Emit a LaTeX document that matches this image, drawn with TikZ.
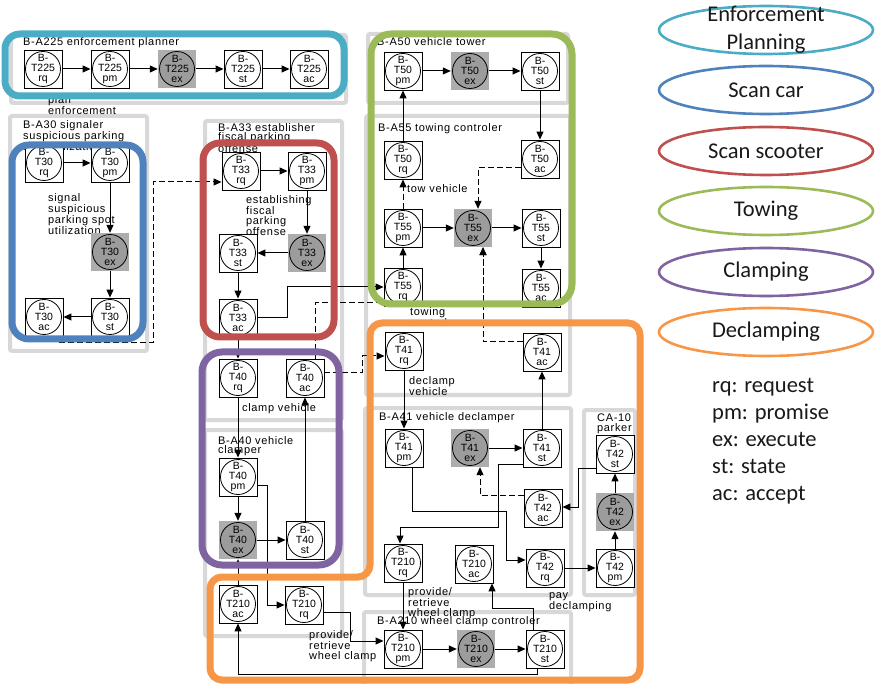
\documentclass[tikz,border=0pt]{standalone}
\usepackage{fontspec}
\setmainfont{Liberation Sans}
\newfontfamily\lblfont[LetterSpace=6]{Liberation Sans}
\newfontfamily\legfont{Carlito}
\usetikzlibrary{arrows.meta,shapes.geometric,calc}
\definecolor{cEP}{HTML}{4BACC6}
\definecolor{cSC}{HTML}{4F81BD}
\definecolor{cSS}{HTML}{C0504D}
\definecolor{cTW}{HTML}{9BBB59}
\definecolor{cCL}{HTML}{8064A2}
\definecolor{cDC}{HTML}{F79646}
\definecolor{lanegray}{HTML}{D8D8D8}
\definecolor{exsq}{HTML}{ADADAD}
\definecolor{excirc}{HTML}{9C9C9C}
\tikzset{
  tx/.style={rectangle, draw=black, line width=0.9pt, fill=white,
    minimum width=38pt, minimum height=38pt, inner sep=0pt, align=center,
    font=\fontsize{10.5}{9.8}\selectfont,
    path picture={\draw[line width=0.8pt] (path picture bounding box.center) circle (17.5pt);}},
  tex/.style={rectangle, draw=none, fill=exsq,
    minimum width=38pt, minimum height=38pt, inner sep=0pt, align=center,
    font=\fontsize{10.5}{9.8}\selectfont,
    path picture={\draw[line width=0.8pt, fill=excirc] (path picture bounding box.center) circle (17.5pt);}},
  lane/.style={draw=lanegray, line width=4pt, rounded corners=2pt},
  bord/.style={line width=7pt, rounded corners=17pt},
  lbl/.style={anchor=north west, inner sep=0pt, align=left,
    font=\lblfont\fontsize{11}{9.8}\selectfont},
  arr/.style={line width=1pt, -{Triangle[length=8pt,width=7pt]}},
  darr/.style={arr, dash pattern=on 6pt off 3pt},
  legE/.style={ellipse, line width=2.6pt, minimum width=214pt, minimum height=48pt, inner sep=0pt},
  legT/.style={inner sep=0pt, align=center, text=black!90, font=\legfont\fontsize{22.5}{28}\selectfont},
  legK/.style={inner sep=0pt, anchor=base west, text=black!90, font=\legfont\fontsize{22.5}{27}\selectfont},
}
\begin{document}
\begin{tikzpicture}[x=1pt,y=-1pt]
\useasboundingbox (0,0) rectangle (878,684);

% swimlanes
\draw[lane] (11,35) rectangle (346,103);
\draw[lane] (10,116) rectangle (147,351);
\draw[lane] (205,121) rectangle (342,420);
\draw[lane] (205,430) rectangle (342,636);
\draw[lane] (368,34) rectangle (568,103);
\draw[lane] (366,116) rectangle (570,395);
\draw[lane] (365,408) rectangle (571,595);
\draw[lane] (364,612) rectangle (571,700);
\draw[lane] (584,410) rectangle (635,595);

% labels
\node[lbl] (L1) at (23,37) {B-A225 enforcement planner};
\node[lbl] (L2) at (48,95) {plan\\enforcement};
\node[lbl] (L3) at (23,120) {B-A30 signaler\\suspicious parking\\spot utilization};
\node[lbl] (L4) at (48,193) {signal\\suspicious\\parking spot\\utilization};
\node[lbl] (L5) at (218,123) {B-A33 establisher\\fiscal parking\\offense};
\node[lbl] (L6) at (246,195) {establishing\\fiscal\\parking\\offense};
\node[lbl] (L7) at (242,403) {clamp vehicle};
\node[lbl] (L8) at (218,436) {B-A40 vehicle\\clamper};
\node[lbl] (L9) at (309,630) {provide/\\retrieve\\wheel clamp};
\node[lbl] (L10) at (377,37) {B-A50 vehicle tower};
\node[lbl] (L11) at (378,123) {B-A55 towing controler};
\node[lbl] (L12) at (407,184) {tow vehicle};
\node[lbl] (L13) at (410,307) {towing\\control};
\node[lbl] (L14) at (409,376) {declamp\\vehicle};
\node[lbl] (L15) at (379,412) {B-A41 vehicle declamper};
\node[lbl] (L16) at (597,414) {CA-10\\parker};
\node[lbl] (L17) at (408,587) {provide/\\retrieve\\wheel clamp};
\node[lbl] (L18) at (549,592) {pay\\declamping};
\node[lbl] (L19) at (377,616) {B-A210 wheel clamp controler};

% nodes
\node[tx]  (a1rq) at (43,69)  {B-\\T225\\rq};
\node[tx]  (a1pm) at (110,69) {B-\\T225\\pm};
\node[tex] (a1ex) at (177,69) {B-\\T225\\ex};
\node[tx]  (a1st) at (243,69) {B-\\T225\\st};
\node[tx]  (a1ac) at (309,69) {B-\\T225\\ac};

\node[tx]  (t30rq) at (44,163)  {B-\\T30\\rq};
\node[tx]  (t30pm) at (110,163) {B-\\T30\\pm};
\node[tex] (t30ex) at (110,252) {B-\\T30\\ex};
\node[tx]  (t30st) at (110,317) {B-\\T30\\st};
\node[tx]  (t30ac) at (44,317)  {B-\\T30\\ac};

\node[tx]  (t33rq) at (241,171) {B-\\T33\\rq};
\node[tx]  (t33pm) at (307,171) {B-\\T33\\pm};
\node[tex] (t33ex) at (307,253) {B-\\T33\\ex};
\node[tx]  (t33st) at (238,253) {B-\\T33\\st};
\node[tx]  (t33ac) at (238,318) {B-\\T33\\ac};

\node[tx]  (t40rq) at (238,378) {B-\\T40\\rq};
\node[tx]  (t40ac) at (305,378) {B-\\T40\\ac};
\node[tx]  (t40pm) at (238,477) {B-\\T40\\pm};
\node[tex] (t40ex) at (238,540) {B-\\T40\\ex};
\node[tx]  (t40st) at (305,540) {B-\\T40\\st};

\node[tx]  (t210acL) at (238,604) {B-\\T210\\ac};
\node[tx]  (t210rqL) at (304,605) {B-\\T210\\rq};

\node[tx]  (t50pm) at (403,71) {B-\\T50\\pm};
\node[tex] (t50ex) at (470,71) {B-\\T50\\ex};
\node[tx]  (t50st) at (540,71) {B-\\T50\\st};
\node[tx]  (t50rq) at (403,160) {B-\\T50\\rq};
\node[tx]  (t50ac) at (540,159) {B-\\T50\\ac};

\node[tx]  (t55pm) at (403,228) {B-\\T55\\pm};
\node[tex] (t55ex) at (473,228) {B-\\T55\\ex};
\node[tx]  (t55st) at (541,228) {B-\\T55\\st};
\node[tx]  (t55rq) at (403,287) {B-\\T55\\rq};
\node[tx]  (t55ac) at (541,288) {B-\\T55\\ac};

\node[tx]  (t41rq) at (404,351) {B-\\T41\\rq};
\node[tx]  (t41ac) at (542,352) {B-\\T41\\ac};
\node[tx]  (t41pm) at (404,448) {B-\\T41\\pm};
\node[tex] (t41ex) at (470,448) {B-\\T41\\ex};
\node[tx]  (t41st) at (542,448) {B-\\T41\\st};

\node[tx]  (t42st) at (615,454) {B-\\T42\\st};
\node[tex] (t42ex) at (615,512) {B-\\T42\\ex};
\node[tx]  (t42pm) at (615,568) {B-\\T42\\pm};
\node[tx]  (t42ac) at (543,508) {B-\\T42\\ac};
\node[tx]  (t42rq) at (545,568) {B-\\T42\\rq};

\node[tx]  (t210rqR) at (403,563) {B-\\T210\\rq};
\node[tx]  (t210acR) at (474,564) {B-\\T210\\ac};
\node[tx]  (t210pm) at (403,649) {B-\\T210\\pm};
\node[tex] (t210ex) at (476,649) {B-\\T210\\ex};
\node[tx]  (t210st) at (545,649) {B-\\T210\\st};

% connectors
\draw[arr] (a1rq) -- (a1pm);
\draw[arr] (a1pm) -- (a1ex);
\draw[arr] (a1ex) -- (a1st);
\draw[arr] (a1st) -- (a1ac);

\draw[arr] (t30rq) -- (t30pm);
\draw[arr] (t30pm) -- (t30ex);
\draw[arr] (t30ex) -- (t30st);
\draw[arr] (t30st) -- (t30ac);
\draw[darr] ($(t30ac.south)+(13,0)$) |- (153,343) |- (t33rq.west |- 0,182);

\draw[arr] (t33rq) -- (t33pm);
\draw[arr] (t33pm) -- (t33ex);
\draw[arr] (t33ex) -- (t33st);
\draw[arr] (t33st) -- (t33ac);
\draw[arr] (t33ac) -- (t40rq);
\draw[arr] (t33ac.east) -- (287,318) |- (t55rq.west);

\draw[arr] (t40rq) -- (t40pm);
\draw[arr] (t40pm) -- (t40ex);
\draw[arr] (t40ex) -- (t40st);
\draw[arr] (t40st) -- (t40ac);
\draw[darr] ($(t40ac.north)+(10,0)$) |- (483,303) -- ($(t55ex.south)+(10,0)$);
\draw[darr] (t40ac.east |- 0,373) -- (362,373) |- (t41rq.west |- 0,356);
\draw[arr] (t40pm.east |- 0,485) -- (267,485) |- (t210rqL.west);
\draw[arr] (t210acL) -- (t40ex);
\draw[arr] (t210rqL.east |- 0,612) -- (350,612) |- (t210pm.west |- 0,641);
\draw[arr] ($(t210st.south)+(-8,0)$) |- (238,674) -- (t210acL.south);

\draw[arr] (t50pm) -- (t50ex);
\draw[arr] (t50ex) -- (t50st);
\draw[arr] (t50st) -- (t50ac);
\draw[arr] (t50rq) -- (t50pm);
\draw[darr] (t55pm) -- (t50rq);
\draw[darr] (t50ac.west |- 0,168) -| ($(t55ex.north)+(5,0)$);
\draw[arr] (t55rq) -- (t55pm);
\draw[arr] (t55pm) -- (t55ex);
\draw[arr] (t55ex) -- (t55st);
\draw[arr] (t55st) -- (t55ac);

\draw[arr] (t41rq) -- (t41pm);
\draw[arr] (t41ex) -- (t41st);
\draw[arr] (t41st) -- (t41ac);
\draw[darr] (t41ac.west |- 0,342) -| ($(t55ex.south)+(10,0)$);
\draw[darr] (t42ac.west |- 0,495) -| ($(t41ex.south)+(10,0)$);
\draw[arr] ($(t41pm.south)+(8,0)$) |- (506,511) |- (t42rq.west |- 0,560);
\draw[arr] (t41st.west |- 0,464) -| (498,527) -| ($(t210rqR.north)+(-3,0)$);

\draw[arr] (t42st.west |- 0,468) -| (578,507) -- (t42ac.east |- 0,507);
\draw[arr] (t42pm) -- (t42ex);
\draw[arr] (t42ex) -- (t42st);
\draw[arr] (t42rq) -- (t42pm);

\draw[arr] (t210rqR) -- (t210pm);
\draw[arr] (t210pm) -- (t210ex);
\draw[arr] (t210ex) -- (t210st);
\draw[arr] ($(t210st.north)+(-12,0)$) |- (492,608) -- ($(t210acR.south)+(18,0)$);

% scenario borders
\draw[bord, draw=cEP, rounded corners=15pt] (5,34) rectangle (344,96);
\draw[bord, draw=cSC] (12,145) rectangle (143,339);
\draw[bord, draw=cSS] (203,143) rectangle (334,337);
\draw[bord, draw=cTW, rounded corners=20pt] (371,34) rectangle (572,304);
\draw[bord, draw=cCL, rounded corners=20pt] (202,352) rectangle (339,565);
\draw[bord, draw=cDC, rounded corners=12pt] (370,323) -- (640,323) -- (640,680) -- (210,680) -- (210,577) -- (370,577) -- cycle;

% legend
\node[legE, draw=cEP] (gEP) at (766,30) {};
\node[legT] (gEPt) at (gEP) {Enforcement\\Planning};
\node[legE, draw=cSC] (gSC) at (766,90) {};
\node[legT] (gSCt) at (gSC) {Scan car};
\node[legE, draw=cSS] (gSS) at (766,151) {};
\node[legT] (gSSt) at (gSS) {Scan scooter};
\node[legE, draw=cTW] (gTW) at (766,211) {};
\node[legT] (gTWt) at (gTW) {Towing};
\node[legE, draw=cCL] (gCL) at (766,272) {};
\node[legT] (gCLt) at (gCL) {Clamping};
\node[legE, draw=cDC] (gDC) at (766,332) {};
\node[legT] (gDCt) at (gDC) {Declamping};

\node[legK] (k1) at (712,392) {rq: request};
\node[legK] (k2) at (712,419) {pm: promise};
\node[legK] (k3) at (712,446) {ex: execute};
\node[legK] (k4) at (712,473) {st: state};
\node[legK] (k5) at (712,500) {ac: accept};
\end{tikzpicture}
\end{document}
